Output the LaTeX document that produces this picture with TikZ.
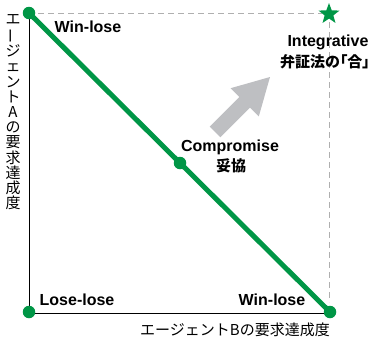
\documentclass[tikz,border=0pt]{standalone}
\usepackage{fontspec}
\setmainfont{Liberation Sans}
\newfontfamily\cjk{Noto Sans CJK JP}
\newfontfamily\cjkp[RawFeature=+palt]{Noto Sans CJK JP}
\usetikzlibrary{shapes.geometric}
\definecolor{dotgreen}{RGB}{0,150,70}
\definecolor{arrowgray}{RGB}{190,191,194}
\definecolor{dashgray}{RGB}{175,175,175}
\tikzset{
  gdot/.style={circle,fill=dotgreen,inner sep=0pt,minimum size=12.5pt},
  lbl/.style={font=\fontsize{16}{18}\selectfont\bfseries,inner sep=0pt},
  jlbl/.style={font=\cjkp\fontsize{15}{18}\selectfont\bfseries,inner sep=0pt},
  axlbl/.style={font=\cjk\fontsize{15}{15.2}\selectfont,inner sep=0pt},
  dashln/.style={dashgray,line width=1pt,dash pattern=on 6pt off 4pt},
}
\begin{document}
\begin{tikzpicture}[x=1pt,y=-1pt]
\useasboundingbox (0,0) rectangle (379,343);
% dashed guides
\draw[dashln] (38,13) -- (322,13);
\draw[dashln] (329,22) -- (329,302);
% axes
\coordinate (ytop) at (29,17);
\coordinate (org) at (29,313);
\coordinate (xend) at (329,313);
\draw[line width=1pt] (ytop) -- (org) -- (xend);
% dots
\node[gdot] (tl) at (29,13) {};
\node[gdot] (ll) at (29,312) {};
\node[gdot] (br) at (330,312) {};
\node[gdot] (mid) at (180,163) {};
\draw[dotgreen,line width=5pt] (tl.center) -- (br.center);
% star
\node[star,star points=5,star point ratio=2.4,fill=dotgreen,inner sep=0pt,minimum size=22pt] (st) at (329,14) {};
% gray arrow
\fill[arrowgray] (220.3,137.3) -- (209.7,126.7) -- (239.4,97) -- (230.6,88.2) -- (270,77) -- (258.8,116.4) -- (250,107.6) -- cycle;
% labels
\node[lbl] (wl1) at (88,27) {Win-lose};
\node[lbl] (integ) at (328,42) {Integrative};
\node[jlbl] (gou) at (325,62) {弁証法の「合」};
\node[lbl] (comp) at (230,147) {Compromise};
\node[jlbl] (dak) at (231,166) {妥協};
\node[lbl] (lose) at (77,300) {Lose-lose};
\node[lbl] (wl2) at (272,300) {Win-lose};
% axis labels
\node[axlbl] (xl) at (235,330) {エージェントBの要求達成度};
\node[axlbl,anchor=north,align=center] (yl) at (13,14) {エ\\\rotatebox[origin=c]{90}{ー}\\ジ\\ェ\\ン\\ト\\A\\の\\要\\求\\達\\成\\度};
\end{tikzpicture}
\end{document}
